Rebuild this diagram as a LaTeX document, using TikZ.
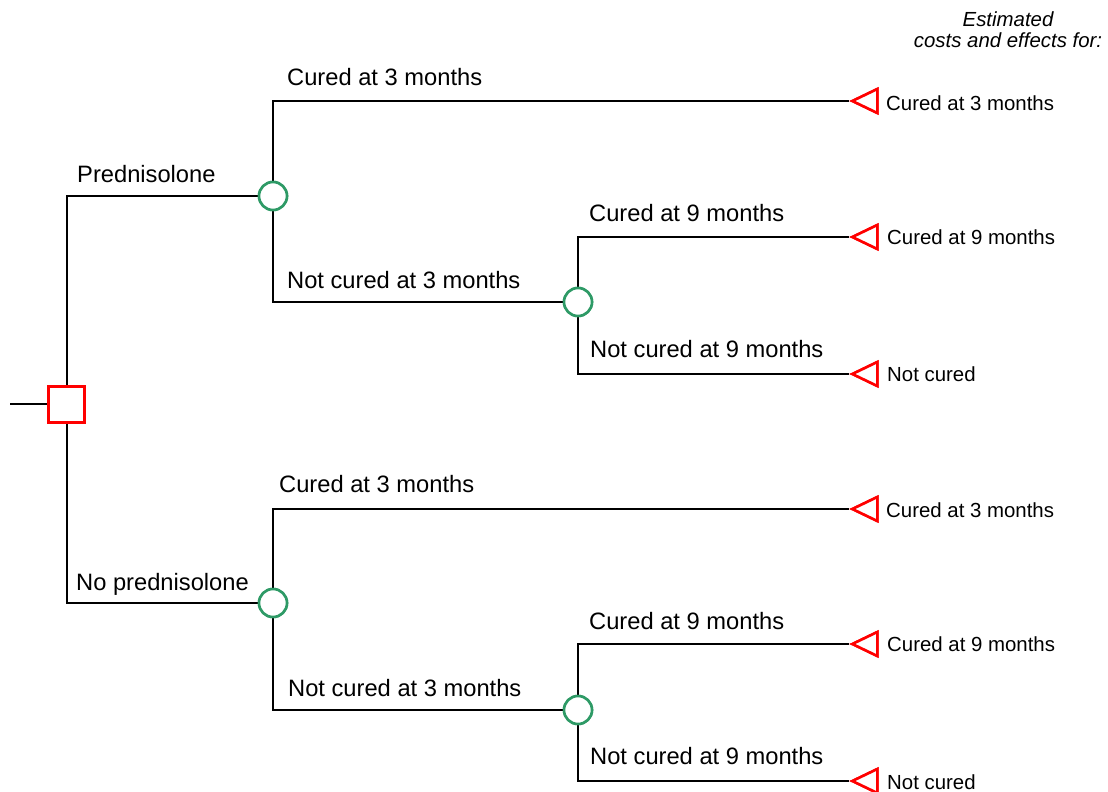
\documentclass[tikz,border=0pt]{standalone}
\usepackage{fontspec}
\setmainfont{Liberation Sans}
\usetikzlibrary{shapes.geometric}
\definecolor{decred}{RGB}{255,0,0}
\definecolor{chgreen}{RGB}{46,154,102}
\begin{document}
\begin{tikzpicture}[x=1pt,y=-1pt,
  decision/.style={draw=decred,line width=3pt,fill=white,minimum size=36pt,inner sep=0pt},
  chance/.style={draw=chgreen,line width=2.6pt,fill=white,circle,minimum size=28pt,inner sep=0pt},
  term/.style={draw=decred,line width=2.6pt,fill=white,isosceles triangle,shape border rotate=180,
     isosceles triangle stretches,minimum width=24pt,minimum height=25pt,inner sep=0pt,anchor=apex},
  branch/.style={anchor=base west,inner sep=0pt,font=\fontsize{23.7}{26}\selectfont},
  termlab/.style={anchor=base west,inner sep=0pt,font=\fontsize{20.4}{22}\selectfont},
  conn/.style={draw=black,line width=2pt}]
\useasboundingbox (0,0) rectangle (1108,792);
% nodes
\coordinate (start) at (10,404);
\node[decision] (d) at (66.5,404) {};
\node[chance] (c1) at (273,196) {};
\node[chance] (c2) at (578,302) {};
\node[chance] (c3) at (273,603) {};
\node[chance] (c4) at (578,710) {};
\node[term] (t1) at (849,101) {};
\node[term] (t2) at (849,237) {};
\node[term] (t3) at (849,374) {};
\node[term] (t4) at (849,509) {};
\node[term] (t5) at (849,644) {};
\node[term] (t6) at (849,781) {};
% connectors
\draw[conn] (start) -- (d.west);
\draw[conn] (d.north) |- (c1.west);
\draw[conn] (d.south) |- (c3.west);
\draw[conn] (c1.north) |- (t1.apex);
\draw[conn] (c1.south) |- (c2.west);
\draw[conn] (c2.north) |- (t2.apex);
\draw[conn] (c2.south) |- (t3.apex);
\draw[conn] (c3.north) |- (t4.apex);
\draw[conn] (c3.south) |- (c4.west);
\draw[conn] (c4.north) |- (t5.apex);
\draw[conn] (c4.south) |- (t6.apex);
% redraw shapes on top
\node[decision] at (d) {};
\foreach \c in {c1,c2,c3,c4} \node[chance] at (\c) {};
\foreach \t in {t1,t2,t3,t4,t5,t6} \node[term] at (\t.apex) {};
% branch labels
\node[branch] (l1) at (77,182) {Prednisolone};
\node[branch] (l2) at (287,85.5) {Cured at 3 months};
\node[branch] (l3) at (287,288) {Not cured at 3 months};
\node[branch] (l4) at (589,221) {Cured at 9 months};
\node[branch] (l5) at (590,357) {Not cured at 9 months};
\node[branch] (l6) at (76,590) {No prednisolone};
\node[branch] (l7) at (279,492) {Cured at 3 months};
\node[branch] (l8) at (288,696) {Not cured at 3 months};
\node[branch] (l9) at (589,629) {Cured at 9 months};
\node[branch] (l10) at (590,764) {Not cured at 9 months};
% terminal labels
\node[termlab] (e1) at (886,110) {Cured at 3 months};
\node[termlab] (e2) at (887,244) {Cured at 9 months};
\node[termlab] (e3) at (887,381) {Not cured};
\node[termlab] (e4) at (886,517) {Cured at 3 months};
\node[termlab] (e5) at (887,651) {Cured at 9 months};
\node[termlab] (e6) at (887,789) {Not cured};
% header
\node[align=center,inner sep=0pt,anchor=base,font=\fontsize{20.4}{21.5}\selectfont\itshape] (hdr) at (1008,48) {Estimated\\costs and effects for:};
\end{tikzpicture}
\end{document}
